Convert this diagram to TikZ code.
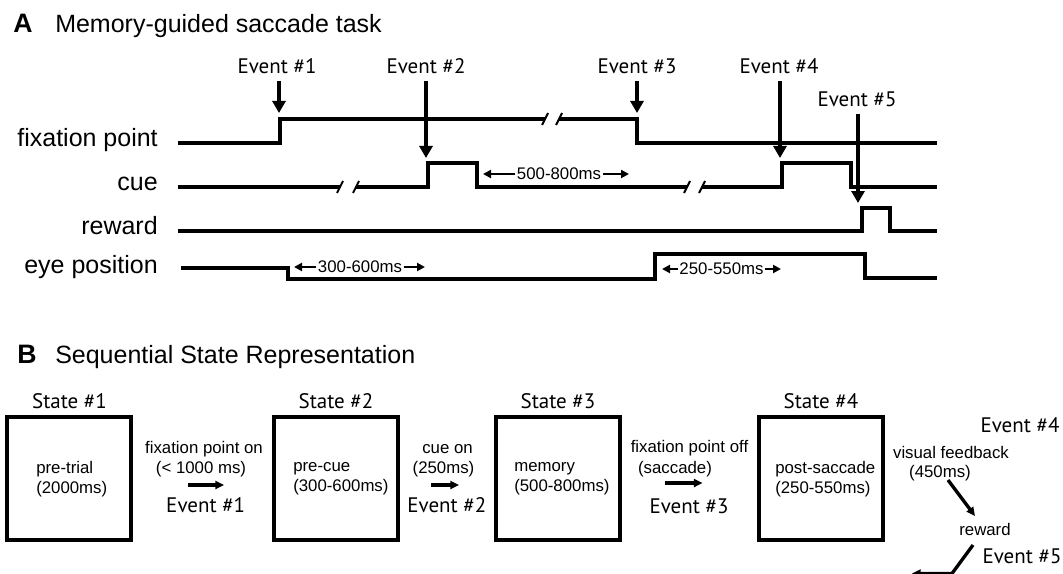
\documentclass[tikz,border=0pt]{standalone}
\usepackage{fontspec}
\setmainfont{Liberation Sans}
\newfontfamily\evfont{PT Sans}
\usetikzlibrary{arrows.meta}

\tikzset{
  wave/.style={line width=2.4pt},
  brk/.style={line width=1.5pt},
  evarrow/.style={line width=2.3pt, -{Triangle[length=9pt,width=9.75pt]}},
  durarrow/.style={line width=2.2pt, -{Triangle[length=6pt,width=6pt]}},
  trarrow/.style={line width=2.5pt, -{Triangle[length=6.5pt,width=6pt]}},
  rowlbl/.style={font=\fontsize{18.75}{22}\selectfont, inner sep=0pt, anchor=mid east},
  small/.style={font=\fontsize{12.6}{15}\selectfont, inner sep=1pt},
  ev/.style={font=\evfont\fontsize{15.75}{18}\selectfont, inner sep=0pt, anchor=base},
  paneltitle/.style={font=\fontsize{18.75}{22}\selectfont, inner sep=0pt, anchor=base west},
  stbox/.style={draw, line width=3pt, minimum width=93pt, minimum height=92.25pt, inner sep=0pt},
  boxtxt/.style={font=\fontsize{12.6}{15}\selectfont, align=left, inner sep=0pt, anchor=west},
}

\begin{document}
\begin{tikzpicture}[x=0.75pt,y=-0.75pt]
\useasboundingbox (0,0) rectangle (1063,574);

% ---------------- Panel A ----------------
\node[paneltitle] (ta) at (13,33) {\fontsize{20}{22}\selectfont\bfseries A};
\node[paneltitle] (tat) at (55,33) {Memory-guided saccade task};

% row labels
\node[rowlbl] (lfix) at (158,143) {fixation point};
\node[rowlbl] (lcue) at (158,187) {cue};
\node[rowlbl] (lrew) at (158,231) {reward};
\node[rowlbl] (leye) at (158,270) {eye position};

% fixation point trace
\draw[wave] (178,143) -- (280,143) -- (280,119) -- (545,119);
\draw[wave] (559,119) -- (637,119) -- (637,143) -- (937,143);
\draw[brk] (542,125) -- (548,113);
\draw[brk] (556,125) -- (562,113);

% cue trace
\draw[wave] (178,187) -- (340,187);
\draw[wave] (356,187) -- (428,187) -- (428,163) -- (477,163) -- (477,187) -- (687,187);
\draw[wave] (702,187) -- (782,187) -- (782,163) -- (851,163) -- (851,187) -- (937,187);
\draw[brk] (337,193) -- (343,181);
\draw[brk] (353,193) -- (359,181);
\draw[brk] (684,193) -- (690,181);
\draw[brk] (699,193) -- (705,181);

% reward trace
\draw[wave] (178,231) -- (862,231) -- (862,208) -- (890,208) -- (890,231) -- (937,231);

% eye position trace
\draw[wave] (181,268) -- (288,268) -- (288,279) -- (655,279) -- (655,254) -- (865,254) -- (865,278) -- (937,278);

% event markers
\node[ev] (e1) at (277,73.5) {Event \#1};
\node[ev] (e2) at (426,73.5) {Event \#2};
\node[ev] (e3) at (637,73.5) {Event \#3};
\node[ev] (e4) at (779,73.5) {Event \#4};
\node[ev] (e5) at (857,106.5) {Event \#5};
\coordinate (t1) at (279,113);
\coordinate (t2) at (426,158);
\coordinate (t3) at (637,113);
\coordinate (t4) at (780,158);
\coordinate (t5) at (858,203);
\draw[evarrow] (279,81) -- (t1);
\draw[evarrow] (426,81) -- (t2);
\draw[evarrow] (637,81) -- (t3);
\draw[evarrow] (780,81) -- (t4);
\draw[evarrow] (858,114) -- (t5);

% interval markers
\node[small] (d1) at (360,267) {300-600ms};
\coordinate (d1l) at (294,267);
\coordinate (d1r) at (425,267);
\draw[durarrow] (d1.west) -- (d1l);
\draw[durarrow] (d1.east) -- (d1r);

\node[small] (d2) at (559,174) {500-800ms};
\coordinate (d2l) at (483,174);
\coordinate (d2r) at (629,174);
\draw[durarrow] (d2.west) -- (d2l);
\draw[durarrow] (d2.east) -- (d2r);

\node[small] (d3) at (721.5,269) {250-550ms};
\coordinate (d3l) at (662,269);
\coordinate (d3r) at (781,269);
\draw[durarrow] (d3.west) -- (d3l);
\draw[durarrow] (d3.east) -- (d3r);

% ---------------- Panel B ----------------
\node[paneltitle] (tb) at (17,363) {\fontsize{20}{22}\selectfont\bfseries B};
\node[paneltitle] (tbt) at (55,363) {Sequential State Representation};

% states
\node[stbox] (s1) at (69.4,478.5) {};
\node[stbox] (s2) at (336,478.5) {};
\node[stbox] (s3) at (558,478.5) {};
\node[stbox] (s4) at (821,478.5) {};
\node[ev] (s1l) at (69.5,408.5) {State \#1};
\node[ev] (s2l) at (336,408.5) {State \#2};
\node[ev] (s3l) at (558,408.5) {State \#3};
\node[ev] (s4l) at (821,408.5) {State \#4};
\node[boxtxt] (s1t) at (36,479) {pre-trial\\(2000ms)};
\node[boxtxt] (s2t) at (293,479) {pre-cue\\(300-600ms)};
\node[boxtxt] (s3t) at (514,479) {memory\\(500-800ms)};
\node[boxtxt] (s4t) at (775,479) {post-saccade\\(250-550ms)};

% transitions
\node[small] (tr1a) at (204,449) {fixation point on};
\node[small] (tr1b) at (201,469.5) {(< 1000 ms)};
\node[ev] (tr1e) at (205.7,512.6) {Event \#1};
\coordinate (tr1s) at (187.7,485);
\coordinate (tr1t) at (224,485);
\draw[trarrow] (tr1s) -- (tr1t);

\node[small] (tr2a) at (447.5,449) {cue on};
\node[small] (tr2b) at (443.5,469.5) {(250ms)};
\node[ev] (tr2e) at (446.8,512.6) {Event \#2};
\coordinate (tr2s) at (431,485);
\coordinate (tr2t) at (459,485);
\draw[trarrow] (tr2s) -- (tr2t);

\node[small] (tr3a) at (689.5,448) {fixation point off};
\node[small] (tr3b) at (675,469) {(saccade)};
\node[ev] (tr3e) at (689,513) {Event \#3};
\coordinate (tr3s) at (665.4,483);
\coordinate (tr3t) at (702.5,483);
\draw[trarrow] (tr3s) -- (tr3t);

% end of trial
\node[ev] (tr4e) at (1020,432) {Event \#4};
\node[small] (tr4a) at (951,452) {visual feedback};
\node[small] (tr4b) at (940,473) {(450ms)};
\node[small] (rw) at (985,529) {reward};
\node[ev] (tr5e) at (1022,563) {Event \#5};
\coordinate (fbs) at (948,480);
\coordinate (fbt) at (975,516);
\draw[trarrow] (fbs) -- (fbt);
\coordinate (rws) at (973,545);
\coordinate (rwm) at (952,573.5);
\coordinate (rwt) at (912,573.5);
\draw[trarrow] (rws) -- (rwm) -- (rwt);
\end{tikzpicture}
\end{document}
